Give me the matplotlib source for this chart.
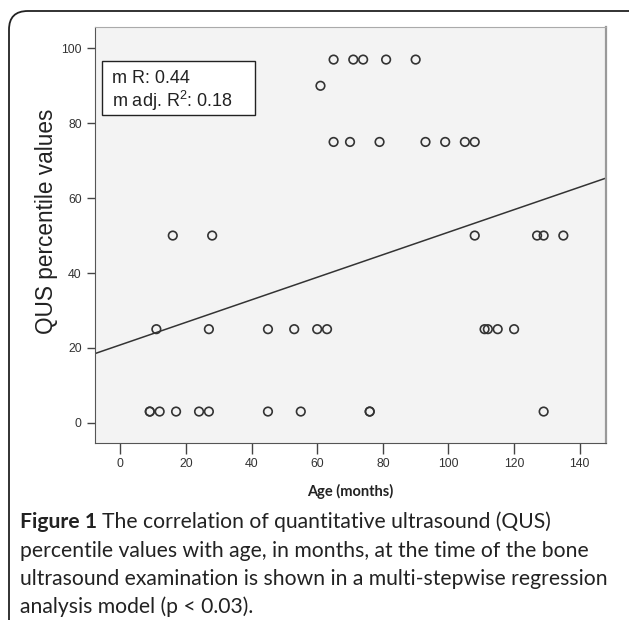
import numpy as np
import matplotlib
matplotlib.use("Agg")
import matplotlib.pyplot as plt
from matplotlib.patches import FancyBboxPatch, Rectangle

# age (months) vs QUS percentile
age = [9, 9, 12, 17, 24, 27, 45, 55, 76, 76, 129,
       11, 27, 45, 53, 60, 63, 111, 112, 115, 120,
       16, 28, 108, 127, 129, 135,
       65, 70, 79, 93, 99, 105, 108,
       61,
       65, 71, 74, 81, 90]
qus = [3, 3, 3, 3, 3, 3, 3, 3, 3, 3, 3,
       25, 25, 25, 25, 25, 25, 25, 25, 25, 25,
       50, 50, 50, 50, 50, 50,
       75, 75, 75, 75, 75, 75, 75,
       90,
       97, 97, 97, 97, 97]

fit_intercept = 20.8
fit_slope = 0.301
stats_lines = ["m R: 0.44", "m adj. R$^2$: 0.18"]

plt.rcParams["mathtext.default"] = "regular"
fig = plt.figure(figsize=(6.29, 6.2), dpi=100)

# rounded frame around the figure panel
frame = FancyBboxPatch((9/629, -0.1), 640/629, 1.1 - 11/620,
                       boxstyle="round,pad=0,rounding_size=0.03",
                       transform=fig.transFigure, fill=False,
                       edgecolor="#222222", linewidth=1.3)
fig.patches.append(frame)

ax = fig.add_axes([95/629, 1 - 443/620, 511/629, 416/620])
ax.set_facecolor("#f3f3f3")
ax.set_xlim(-7.7, 148)
ax.set_ylim(-5.4, 105.7)

ax.scatter(age, qus, s=38, facecolors="none", edgecolors="#333333",
           linewidths=1.2, zorder=3)
xs = np.array(ax.get_xlim())
ax.plot(xs, fit_intercept + fit_slope * xs, color="#333333", lw=1.1, zorder=2)

ax.set_xticks([0, 20, 40, 60, 80, 100, 120, 140])
ax.set_yticks([0, 20, 40, 60, 80, 100])
ax.tick_params(direction="out", length=6, width=1, color="#444444",
               labelsize=8.8, labelcolor="#333333")
ax.tick_params(axis="x", length=8, pad=3)
for lab in ax.get_xticklabels() + ax.get_yticklabels():
    lab.set_family("Liberation Sans")
ax.spines["left"].set_color("#555555")
ax.spines["bottom"].set_color("#555555")
ax.spines["top"].set_color("#aaaaaa")
ax.spines["right"].set_color("#999999")
ax.spines["right"].set_linewidth(1.6)

fig.text(46.5/629, 1 - 221.5/620, "QUS percentile values", rotation=90,
         ha="center", va="center", family="Liberation Sans",
         fontsize=16.3, color="#222222")
ax.set_xlabel("Age (months)", family="Lato", fontweight="bold",
              fontsize=10.5, labelpad=10, color="#222222")

# stats box
ax.add_patch(Rectangle((0.014, 0.788), 0.299, 0.131, transform=ax.transAxes,
                       facecolor="white", edgecolor="#222222", lw=1, zorder=4))
ax.text(0.034, 0.877, stats_lines[0], transform=ax.transAxes, va="center",
        family="Liberation Sans", fontsize=13, color="#222222", zorder=5)
ax.text(0.034, 0.823, stats_lines[1], transform=ax.transAxes, va="center",
        family="Liberation Sans", fontsize=13, color="#222222", zorder=5)

# caption
cap_lines = ["The correlation of quantitative ultrasound (QUS)",
             "percentile values with age, in months, at the time of the bone",
             "ultrasound examination is shown in a multi-stepwise regression",
             "analysis model (p < 0.03)."]
cap_y = [522, 551, 579, 607]
cap_fs = 15.2
fig.canvas.draw()
r = fig.canvas.get_renderer()
t0 = fig.text(20/629, 1 - cap_y[0]/620, "Figure 1", family="Lato",
              fontweight="bold", fontsize=cap_fs, va="center", color="#222222")
w = t0.get_window_extent(r).width
fig.text((20 + w + 5)/629, 1 - cap_y[0]/620, cap_lines[0], family="Lato",
         fontsize=cap_fs, va="center", color="#222222")
for line, y in zip(cap_lines[1:], cap_y[1:]):
    fig.text(20/629, 1 - y/620, line, family="Lato", fontsize=cap_fs,
             va="center", color="#222222")

fig.savefig("out.png", dpi=100)
